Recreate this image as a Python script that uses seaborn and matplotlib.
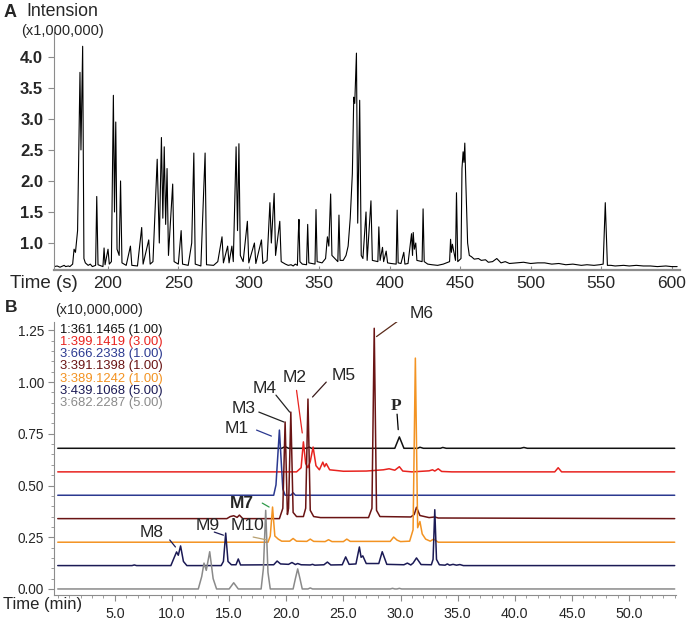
import numpy as np
import pandas as pd
import matplotlib.pyplot as plt
import seaborn as sns

sns.set_style('ticks')
plt.rcParams['font.family'] = ['Liberation Sans', 'DejaVu Sans']

# ---- panel A: total ion chromatogram (time s, intensity x1,000,000), read in pieces ----
tic_t_1 = [162, 164, 166, 167, 169, 170, 172, 173, 175, 176,
           177, 178.5, 180.2, 180.9, 182.1, 183, 184, 186, 187.5, 189]
tic_v_1 = [0.62, 0.63, 0.61, 0.62, 0.64, 0.62, 0.63, 0.62, 0.66, 0.9,
           0.85, 1.2, 3.75, 2.5, 4.17, 0.75, 0.68, 0.64, 0.66, 0.62]

tic_t_2 = [191.3, 192.1, 193, 196.5, 197.3, 198, 200.1, 201, 202.5, 203.9,
           204.7, 205.6, 206.5, 208, 209, 210]
tic_v_2 = [0.64, 1.75, 0.65, 0.62, 0.92, 0.65, 0.9, 0.66, 0.7, 3.38,
           1.5, 2.95, 0.9, 0.8, 2.0, 0.68]

tic_t_3 = [213, 216, 217, 221, 224, 225, 229, 230, 232, 235,
           236.5, 238, 239, 240, 241, 242, 243, 246, 247, 250,
           252, 253, 257, 259.5, 261, 262, 266, 269, 270, 275,
           278, 281, 282, 285, 286, 288, 289, 291, 292, 293,
           294, 296, 299, 300, 304, 305, 309, 310, 313, 315,
           316, 318, 319, 322, 323]
tic_v_3 = [0.64, 0.95, 0.64, 0.63, 1.25, 0.66, 1.05, 0.66, 0.7, 2.35,
           1.0, 2.7, 1.4, 2.55, 1.3, 2.2, 0.8, 1.95, 0.7, 0.66,
           1.2, 0.66, 0.64, 1.0, 2.45, 0.66, 0.63, 2.45, 0.65, 0.64,
           0.7, 1.1, 0.68, 0.95, 0.68, 0.95, 0.7, 2.55, 1.2, 2.6,
           0.8, 0.7, 1.35, 0.68, 1.0, 0.67, 1.05, 0.67, 0.72, 1.65,
           1.0, 1.8, 0.8, 1.35, 0.7]

tic_t_4 = [326, 328, 330, 331.5, 333, 334.5, 335.2, 335.6, 336.3, 338,
           341, 341.8, 342.6, 347, 347.7, 348.5, 352, 354.5, 355.8, 356.8,
           358.1, 359, 363.2, 364, 364.8, 367, 369, 370.5, 372, 373.5,
           374.5, 375.2, 376.4, 377.3, 378.7, 379.8, 381, 383.2, 384, 386.7,
           387.7, 391.6, 392.3, 393.2, 394.9, 395.7, 397.5, 398.5, 401, 404.6,
           405.3, 406, 408, 410, 410.8, 413, 415.5, 416.2, 416.7, 417.5,
           418.5, 419.3, 423, 423.7, 424.5, 427, 430, 434, 438, 442.5,
           443.2, 443.8, 444.5, 446.7, 447.4, 448.3, 450.6, 451.3, 452.1, 452.7,
           453.3, 454, 455.3, 456.5, 458, 460]
tic_v_4 = [0.66, 0.64, 0.65, 0.63, 0.66, 0.64, 1.17, 1.38, 0.7, 0.66,
           0.65, 1.30, 0.68, 0.66, 1.54, 0.7, 0.68, 0.75, 1.1, 0.95,
           1.79, 0.8, 0.7, 1.45, 0.72, 0.72, 0.8, 0.95, 1.4, 2.12,
           3.35, 3.25, 4.06, 1.32, 3.3, 0.8, 0.75, 1.5, 0.72, 1.68,
           0.72, 0.7, 1.26, 0.72, 0.93, 0.7, 0.87, 0.68, 0.67, 0.66,
           1.53, 0.68, 0.67, 0.85, 0.66, 0.67, 1.15, 0.8, 1.17, 0.9,
           1.0, 0.72, 0.7, 1.55, 0.7, 0.66, 0.65, 0.64, 0.66, 0.7,
           1.06, 0.85, 0.98, 0.72, 1.81, 0.7, 0.75, 2.2, 2.47, 2.3,
           2.61, 2.0, 1.0, 0.8, 0.78, 0.74]

tic_t_5 = [463, 465, 468, 470, 473, 476, 479, 482, 485, 490,
           495, 500, 505, 510, 515, 520, 525, 530, 536, 540,
           545, 549, 551.5, 553, 554.5, 557, 560, 566, 570, 575,
           580, 585, 590, 596, 600, 604]
tic_v_5 = [0.75, 0.72, 0.73, 0.69, 0.7, 0.75, 0.68, 0.7, 0.67, 0.68,
           0.69, 0.67, 0.68, 0.68, 0.66, 0.67, 0.65, 0.66, 0.64, 0.65,
           0.64, 0.65, 0.66, 1.65, 0.64, 0.64, 0.63, 0.64, 0.63, 0.64,
           0.63, 0.63, 0.62, 0.63, 0.62, 0.62]

tic_time = tic_t_1 + tic_t_2 + tic_t_3 + tic_t_4 + tic_t_5
tic_int = tic_v_1 + tic_v_2 + tic_v_3 + tic_v_4 + tic_v_5
tic_yticks = [1.0, 1.5, 2.0, 2.5, 3.0, 3.5, 4.0]
tic_xticks = [200, 250, 300, 350, 400, 450, 500, 550, 600]

# ---- panel B: extracted ion chromatograms (time min, intensity x10,000,000 above baseline) ----
eic_labels = ['1:361.1465 (1.00)', '1:399.1419 (3.00)', '3:666.2338 (1.00)', '3:391.1398 (1.00)',
              '3:389.1242 (1.00)', '3:439.1068 (5.00)', '3:682.2287 (5.00)']
eic_colors = ['#111111', '#e8231f', '#2b3990', '#6a1414', '#f39322', '#1b1a55', '#8a8a8a']
eic_offsets = [0.68, 0.566, 0.453, 0.34, 0.226, 0.113, 0.0]

t_361 = [0, 19.6, 19.9, 20.2, 21.8, 22.0, 22.2, 29.5, 29.9, 30.3, 31.5, 31.7, 32.0, 33.5, 33.7, 34.0,
         40.5, 40.8, 41.1, 54]
v_361 = [0, 0, 0.008, 0, 0, 0.006, 0, 0, 0.055, 0, 0, 0.005, 0, 0, 0.004, 0, 0, 0.004, 0, 0]

t_399 = [0, 20.9, 21.3, 21.5, 21.7, 21.9, 22.1, 22.35, 22.6, 22.9, 23.2, 23.35, 23.5, 23.8, 24.5,
         25.0, 27.0, 27.5, 28.5, 29.0, 29.5, 29.9, 30.2, 31.0, 32.5, 32.8, 33.0, 33.3, 33.6, 34.5,
         43.5, 43.8, 44.1, 54]
v_399 = [0, 0, 0.02, 0.145, 0.04, 0.02, 0.05, 0.12, 0.03, 0.01, 0.047, 0.025, 0.04, 0.01, 0.006,
         0.003, 0.004, 0.006, 0.01, 0.015, 0.008, 0.025, 0.004, 0.0, 0.005, 0.01, 0.004, 0.015, 0.002, 0,
         0, 0.02, 0, 0]

t_666 = [0, 18.9, 19.1, 19.4, 19.7, 19.9, 20.4, 20.6, 20.8, 54]
v_666 = [0, 0, 0.05, 0.315, 0.03, 0.0, 0.0, 0.012, 0, 0]

t_391 = [0, 14.8, 15.1, 15.4, 15.7, 15.9, 16.2, 19.4, 19.7, 19.9, 20.1, 20.2, 20.4, 20.6, 20.9,
         21.5, 21.7, 21.9, 22.1, 22.4, 23.0, 27.2, 27.5, 27.7, 27.9, 28.2, 30.9, 31.2, 31.4, 31.7,
         32.5, 33.0, 33.3, 33.6, 54]
v_391 = [0, 0, 0.01, 0.014, 0.006, 0.017, 0, 0, 0.05, 0.467, 0.02, 0.05, 0.515, 0.03, 0.01,
         0.01, 0.05, 0.578, 0.04, 0.01, 0.005, 0.005, 0.05, 0.92, 0.04, 0.01, 0.008, 0.02, 0.055, 0.015,
         0.005, 0.008, 0.003, 0.003, 0]

t_389 = [0, 18.4, 18.6, 18.8, 19.0, 19.3, 19.6, 20.3, 20.6, 20.9, 21.8, 22.1, 22.4, 23.4, 23.7,
         24.0, 25.0, 25.3, 25.6, 29.1, 29.4, 29.7, 30.0, 30.8, 31.1, 31.3, 31.5, 31.7, 31.9, 32.2,
         32.6, 32.9, 33.3, 54]
v_389 = [0, 0, 0.03, 0.17, 0.03, 0.015, 0.005, 0.005, 0.018, 0.005, 0.004, 0.015, 0.004, 0.003, 0.012,
         0.003, 0.003, 0.015, 0.004, 0.004, 0.025, 0.01, 0.003, 0.005, 0.06, 0.89, 0.07, 0.1, 0.04, 0.015,
         0.005, 0.015, 0, 0]

t_439 = [0, 6.5, 6.7, 6.9, 9.9, 10.2, 10.4, 10.55, 10.75, 11.0, 11.3, 14.3, 14.5, 14.7, 14.9, 15.2,
         15.6, 15.8, 16.0, 18.9, 19.2, 19.5, 20.2, 20.5, 20.8, 21.0, 21.3, 22.1, 22.3, 22.5, 23.3,
         23.6, 23.9, 24.9, 25.2, 25.5, 26.1, 26.4, 26.55, 26.7, 27.0, 28.1, 28.4, 28.8, 30.3, 30.6,
         30.9, 31.1, 31.4, 31.8, 32.7, 32.85, 33.0, 33.15, 33.4, 33.9, 34.1, 34.3, 34.6, 34.9, 35.2,
         35.5, 54]
v_439 = [0, 0, 0.003, 0, 0, 0.04, 0.066, 0.05, 0.095, 0.02, 0, 0, 0.02, 0.157, 0.02, 0.004,
         0.004, 0.032, 0.003, 0.004, 0.022, 0.008, 0.006, 0.015, 0.005, 0.01, 0.004, 0.003, 0.006, 0.002, 0.004,
         0.017, 0.003, 0.004, 0.042, 0.006, 0.008, 0.09, 0.04, 0.047, 0.01, 0.01, 0.067, 0.006, 0.004, 0.012,
         0.003, 0.012, 0.037, 0.005, 0.004, 0.03, 0.27, 0.03, 0.004, 0.002, 0.008, 0.002, 0.006, 0.002, 0.005,
         0, 0]

t_682 = [0, 12.3, 12.6, 12.8, 13.0, 13.3, 13.6, 13.9, 15.0, 15.4, 15.8, 17.8, 18.0, 18.2, 18.4, 18.6,
         20.6, 20.8, 21.0, 21.2, 21.4, 21.9, 22.1, 22.3, 29.1, 29.3, 29.5, 29.7, 29.9, 30.1, 54]
v_682 = [0, 0, 0.06, 0.125, 0.09, 0.18, 0.05, 0, 0, 0.03, 0, 0, 0.1, 0.38, 0.08, 0,
         0, 0.05, 0.097, 0.05, 0, 0, 0.005, 0, 0, 0.003, 0, 0, 0.003, 0, 0]

eic_times = [t_361, t_399, t_666, t_391, t_389, t_439, t_682]
eic_values = [v_361, v_399, v_666, v_391, v_389, v_439, v_682]

# peak labels: name, peak point, text point, leader start, leader colour
peak_names = ['M6', 'M5', 'M2', 'M4', 'M3', 'M1', 'M7', 'M8', 'M9', 'M10']
peak_xy = [(27.9, 1.22), (22.3, 0.928), (21.4, 0.754), (20.3, 0.855), (19.8, 0.807), (18.7, 0.739),
           (18.5, 0.396), (10.3, 0.203), (14.5, 0.26), (18.3, 0.237)]
label_xy = [(30.8, 1.333), (24.0, 1.034), (19.7, 1.02), (17.1, 0.97), (15.2, 0.874), (14.6, 0.778),
            (15.1, 0.415), (7.2, 0.275), (12.1, 0.309), (15.1, 0.309)]
line_start = [(30.4, 1.32), (23.5, 1.0), (20.9, 0.96), (19.1, 0.937), (17.6, 0.855), (17.4, 0.768),
              (17.9, 0.415), (9.8, 0.237), (13.7, 0.275), (17.1, 0.251)]
leader_colors = ['#5a2a1a', '#3a1a1a', '#e8231f', '#222222', '#222222', '#2b3990', '#2e9a4a',
                 '#1b1a55', '#1b1a55', '#b8a070']

fig = plt.figure(figsize=(6.86, 6.23), dpi=100)
axA = fig.add_axes([0.0792, 0.5666, 0.912, 0.382])
axB = fig.add_axes([0.0792, 0.045, 0.906, 0.438])

spine_grey = '#8c8c8c'

# panel A
sns.lineplot(x=tic_time, y=tic_int, ax=axA, color='black', lw=0.8, estimator=None, sort=False)
axA.set_xlim(162, 606)
axA.set_ylim(0.565, 4.40)
axA.set_yticks(tic_yticks)
axA.set_yticklabels([f'{v:.1f}' for v in tic_yticks], fontsize=12, fontweight='bold')
axA.set_xticks(tic_xticks)
axA.set_xticklabels([str(v) for v in tic_xticks], fontsize=12.5)
axA.tick_params(axis='y', length=4, width=0.8, color=spine_grey, pad=4)
axA.tick_params(axis='x', length=3, width=0.8, color=spine_grey, direction='in', pad=4)
for s in ['top', 'right']:
    axA.spines[s].set_visible(False)
axA.spines['left'].set_color(spine_grey)
axA.spines['bottom'].set_color(spine_grey)
axA.spines['bottom'].set_linewidth(1.6)
axA.set_xlabel('')
axA.set_ylabel('')

fig.text(4 / 686, 1 - 12.5 / 623, 'A', fontsize=13, fontweight='bold', va='center', ha='left')
fig.text(26 / 686, 1 - 12 / 623, 'Intension', fontsize=12.8, va='center', ha='left')
fig.text(21 / 686, 1 - 31 / 623, '(x1,000,000)', fontsize=10.5, va='center', ha='left')
fig.text(10 / 686, 1 - 284 / 623, 'Time (s)', fontsize=13.5, va='center', ha='left')

# panel B
for t, v, off, col in zip(eic_times, eic_values, eic_offsets, eic_colors):
    sns.lineplot(x=t, y=np.array(v) + off, ax=axB, color=col, lw=1.1, estimator=None, sort=False)

axB.set_xlim(-0.3, 54.1)
axB.set_ylim(-0.029, 1.29)
axB.set_yticks([0.0, 0.25, 0.5, 0.75, 1.0, 1.25])
axB.set_yticklabels(['0.00', '0.25', '0.50', '0.75', '1.00', '1.25'], fontsize=9.8)
axB.set_yticks(np.arange(0, 1.3, 0.05), minor=True)
bx = [5, 10, 15, 20, 25, 30, 35, 40, 45, 50]
axB.set_xticks(bx)
axB.set_xticklabels([f'{v:.1f}' for v in bx], fontsize=10.3)
axB.set_xticks(np.arange(0, 54.1, 1.0), minor=True)
axB.tick_params(axis='both', which='major', length=4, width=0.8, color=spine_grey)
axB.tick_params(axis='both', which='minor', length=2.5, width=0.6, color=spine_grey)
axB.tick_params(axis='x', pad=5)
for s in ['top', 'right']:
    axB.spines[s].set_visible(False)
axB.spines['left'].set_color(spine_grey)
axB.spines['bottom'].set_color(spine_grey)
axB.set_xlabel('')
axB.set_ylabel('')

for i, (lab, col) in enumerate(zip(eic_labels, eic_colors)):
    axB.text(0.2, 1.251 - i * 0.0585, lab, color=col, fontsize=9.4, va='center', ha='left')

for name, pxy, txy, sxy, col in zip(peak_names, peak_xy, label_xy, line_start, leader_colors):
    axB.plot([sxy[0], pxy[0]], [sxy[1], pxy[1]], color=col, lw=0.9)
    axB.text(txy[0], txy[1], name, fontsize=12.5, va='center', ha='left',
             fontweight='bold' if name == 'M7' else 'normal')

axB.plot([29.7, 29.8], [0.845, 0.77], color='black', lw=0.9)
axB.text(29.6, 0.885, 'P', fontsize=12.5, va='center', ha='center', family='Liberation Serif',
         fontweight='bold')

fig.text(5 / 686, 1 - 308 / 623, 'B', fontsize=12.5, fontweight='bold', va='center', ha='left')
fig.text(55 / 686, 1 - 310 / 623, '(x10,000,000)', fontsize=10.3, va='center', ha='left')
fig.text(3 / 686, 1 - 605 / 623, 'Time (min)', fontsize=12, va='center', ha='left')

fig.savefig('out.png', dpi=100)
